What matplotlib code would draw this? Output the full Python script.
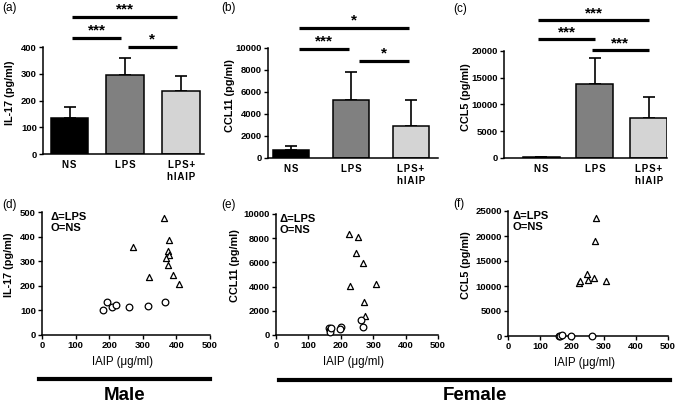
import matplotlib
matplotlib.use('Agg')
import matplotlib.pyplot as plt
from matplotlib.lines import Line2D
import numpy as np

plt.rcParams['font.family'] = ['Liberation Sans', 'DejaVu Sans']

W, H = 680, 403

# ---------------- data ----------------
groups = ['NS', 'LPS', 'LPS+\nhIAIP']
bar_colors = ['black', '#808080', '#d4d4d4']

il17_mean = [135, 297, 237]
il17_err = [40, 61, 53]
ccl11_mean = [725, 5260, 2900]
ccl11_err = [390, 2560, 2360]
ccl5_mean = [150, 13790, 7400]
ccl5_err = [90, 4980, 3910]

# significance brackets: (group i, group j, stars)
sig_a = [(0, 2, '***'), (0, 1, '***'), (1, 2, '*')]
sig_b = [(0, 2, '*'), (0, 1, '***'), (1, 2, '*')]
sig_c = [(0, 2, '***'), (0, 1, '***'), (1, 2, '***')]

# male, IL-17 vs IAIP
male_lps_iaip = [363, 270, 378, 374, 377, 369, 376, 319, 390, 409]
male_lps_il17 = [477, 359, 387, 341, 325, 312, 285, 237, 244, 206]
male_ns_iaip = [182, 194, 209, 220, 260, 315, 367]
male_ns_il17 = [100, 135, 113, 121, 113, 118, 133]

# female, CCL11 vs IAIP
fem_lps_iaip_e = [226, 253, 246, 268, 227, 310, 273, 276]
fem_lps_ccl11 = [8330, 8110, 6790, 5930, 4010, 4200, 2710, 1590]
fem_ns_iaip_e = [163, 166, 168, 170, 200, 199, 263, 267]
fem_ns_ccl11 = [600, 430, 250, 560, 650, 520, 1200, 650]

# female, CCL5 vs IAIP
fem_lps_iaip_f = [274, 271, 223, 225, 246, 250, 268, 307]
fem_lps_ccl5 = [23660, 19000, 10660, 11000, 12400, 11200, 11530, 11070]
fem_ns_iaip_f = [159, 163, 168, 196, 262]
fem_ns_ccl5 = [50, 80, 120, 60, 70]


def px_rect(l, r, b, t):
    return [l / W, 1 - b / H, (r - l) / W, (b - t) / H]


def spaced(s):
    # Prism-style slightly wide letter spacing on the group labels
    return '\n'.join('\u200a'.join(line) for line in s.split('\n'))


def style(ax):
    for s in ['top', 'right']:
        ax.spines[s].set_visible(False)
    for s in ['left', 'bottom']:
        ax.spines[s].set_linewidth(1.1)
    ax.tick_params(direction='out', length=3, width=1.0, labelsize=6.8, pad=1.5)
    for t in ax.get_xticklabels() + ax.get_yticklabels():
        t.set_fontweight('bold')


fig = plt.figure(figsize=(W / 100, H / 100), dpi=100)

# ---------------- bar panels ----------------
bar_panels = [
    # rect, mean, err, ylim, yticks, ylabel, xlim, width, sig, line y, star y, lo, hi, label x
    (px_rect(43, 204, 154, 47), il17_mean, il17_err, 400, np.arange(0, 401, 100),
     'IL-17 (pg/ml)', (-0.475, 2.41), 0.68, sig_a, [1.28, 1.084, 1.0], [1.35, 1.155, 1.07], 0.05, -0.08, -0.174),
    (px_rect(268, 438, 158, 48), ccl11_mean, ccl11_err, 10000, np.arange(0, 10001, 2000),
     'CCL11 (pg/ml)', (-0.38, 2.45), 0.6, sig_b, [1.18, 0.99, 0.88], [1.25, 1.06, 0.95], 0.13, -0.03, -0.194),
    (px_rect(504, 667, 158, 51), ccl5_mean, ccl5_err, 20000, np.arange(0, 20001, 5000),
     'CCL5 (pg/ml)', (-0.69, 2.34), 0.69, sig_c, [1.29, 1.112, 1.01], [1.35, 1.17, 1.075], -0.05, 0.0, -0.204),
]

for rect, mean, err, ymax, yt, ylab, xl, wd, sig, ly, sy, lo, hi, lx in bar_panels:
    ax = fig.add_axes(rect)
    x = np.arange(len(groups))
    ax.errorbar(x, mean, yerr=[np.zeros(3), err], fmt='none', ecolor='black',
                elinewidth=1.2, capsize=4.5, capthick=1.2, zorder=1)
    ax.bar(x, mean, width=wd, color=bar_colors, edgecolor='black', linewidth=1.1, zorder=2)
    ax.set_xlim(xl)
    ax.set_ylim(0, ymax)
    ax.set_yticks(yt)
    ax.set_xticks(x)
    ax.set_xticklabels([spaced(g) for g in groups], linespacing=1.35)
    style(ax)
    ax.tick_params(axis='x', length=0, pad=4, labelsize=7)
    ax.set_ylabel(ylab, fontsize=7.8, fontweight='bold')
    ax.yaxis.set_label_coords(lx, 0.57)
    tr = ax.get_xaxis_transform()
    for (i, j, stars), yl, ys in zip(sig, ly, sy):
        ax.plot([i + lo, j + hi], [yl, yl], color='black', lw=2.3, transform=tr,
                clip_on=False, solid_capstyle='butt')
        ax.text((i + lo + j + hi) / 2, ys, stars, transform=tr, ha='center', va='center',
                fontsize=11, fontweight='bold')

# ---------------- scatter panels ----------------
scatter_panels = [
    (px_rect(42, 210, 335, 212), male_lps_iaip, male_lps_il17, male_ns_iaip, male_ns_il17,
     500, np.arange(0, 501, 100), 'IL-17 (pg/ml)', -0.167, 0.048),
    (px_rect(276, 438, 335, 214), fem_lps_iaip_e, fem_lps_ccl11, fem_ns_iaip_e, fem_ns_ccl11,
     10000, np.arange(0, 10001, 2000), 'CCL11 (pg/ml)', -0.222, 0.02),
    (px_rect(508, 668, 336, 211), fem_lps_iaip_f, fem_lps_ccl5, fem_ns_iaip_f, fem_ns_ccl5,
     25000, np.arange(0, 25001, 5000), 'CCL5 (pg/ml)', -0.233, 0.03),
]

for rect, lx_, ly_, nx_, ny_, ymax, yt, ylab, lblx, legx in scatter_panels:
    ax = fig.add_axes(rect)
    ax.scatter(lx_, ly_, marker='^', s=19, facecolors='white', edgecolors='black',
               linewidths=0.9, clip_on=False, zorder=3)
    ax.scatter(nx_, ny_, marker='o', s=23, facecolors='white', edgecolors='black',
               linewidths=0.9, clip_on=False, zorder=3)
    ax.set_xlim(0, 500)
    ax.set_ylim(0, ymax)
    ax.set_xticks(np.arange(0, 501, 100))
    ax.set_yticks(yt)
    style(ax)
    ax.set_ylabel(ylab, fontsize=7.8, fontweight='bold')
    ax.yaxis.set_label_coords(lblx, 0.57)
    ax.set_xlabel('IAIP (\u03bcg/ml)', fontsize=8.3)
    ax.xaxis.set_label_coords(0.48, -0.17)
    ax.text(legx, 1.0, '\u0394=LPS\nO=NS', transform=ax.transAxes, ha='left', va='top',
            fontsize=8, fontweight='bold', linespacing=1.15)

# ---------------- panel letters ----------------
letters = ['(a)', '(b)', '(c)', '(d)', '(e)', '(f)']
letter_pos = [(2, 2), (221, 2), (453, 3), (2, 199), (221, 199), (453, 198)]
for s, (px, py) in zip(letters, letter_pos):
    fig.text(px / W, 1 - py / H, s, ha='left', va='top', fontsize=8.5)

# ---------------- sex bars ----------------
fig.add_artist(Line2D([39 / W, 210 / W], [1 - 379 / H, 1 - 379 / H], color='black', lw=3))
fig.add_artist(Line2D([279 / W, 670 / W], [1 - 380 / H, 1 - 380 / H], color='black', lw=3))
fig.text(125 / W, 1 - 395 / H, 'Male', ha='center', va='center', fontsize=13.5, fontweight='bold')
fig.text(475 / W, 1 - 395 / H, 'Female', ha='center', va='center', fontsize=13.5, fontweight='bold')

fig.savefig('out.png', dpi=100)
